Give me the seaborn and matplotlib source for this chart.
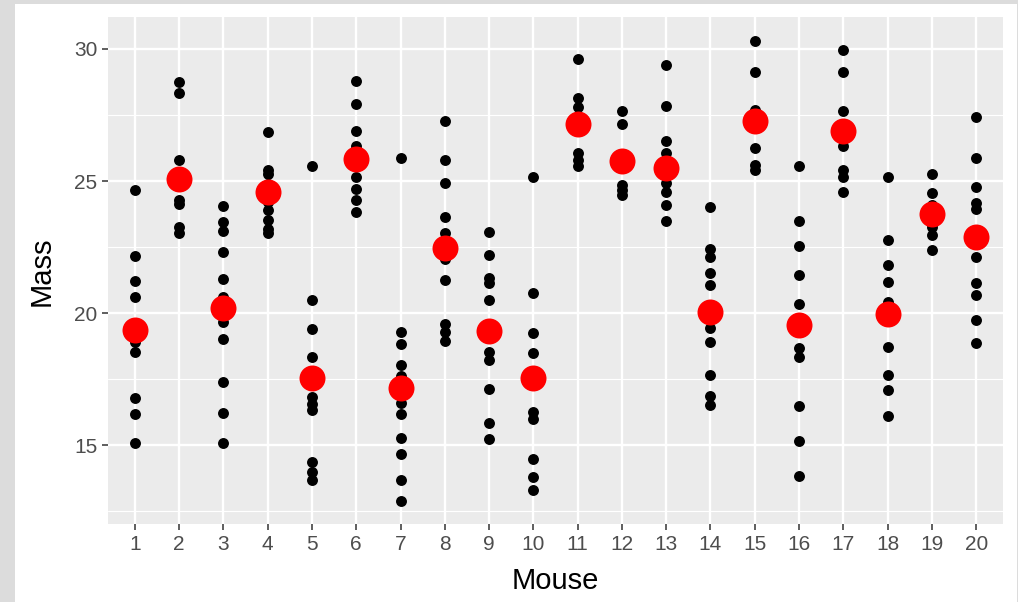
import pandas as pd
import matplotlib.pyplot as plt
import seaborn as sns
from matplotlib.patches import Rectangle

# mass readings per mouse (visible points)
mice = list(range(1, 21))
mass_points = [
    [24.67, 22.17, 21.21, 20.61, 18.90, 18.51, 16.80, 16.17, 15.08],
    [28.75, 28.33, 25.80, 24.29, 24.12, 23.24, 23.02],
    [24.07, 23.43, 23.12, 22.30, 21.28, 20.62, 19.67, 19.01, 17.40, 16.23, 15.08],
    [26.84, 25.42, 25.27, 24.90, 24.22, 23.91, 23.53, 23.17, 23.02],
    [25.55, 20.49, 19.39, 18.32, 16.83, 16.57, 16.32, 14.36, 13.98, 13.67],
    [28.77, 27.93, 26.90, 26.33, 25.17, 24.69, 24.29, 23.84],
    [25.89, 19.29, 18.81, 18.03, 17.60, 16.60, 16.17, 15.27, 14.65, 13.69, 12.87],
    [27.29, 25.80, 24.92, 23.65, 23.02, 22.04, 21.25, 19.58, 19.29, 18.95],
    [23.08, 22.20, 21.31, 21.13, 20.49, 18.53, 18.24, 17.12, 15.82, 15.22],
    [25.17, 20.75, 19.23, 18.47, 16.26, 16.00, 14.49, 13.79, 13.31],
    [29.62, 28.14, 27.80, 26.06, 25.80, 25.55],
    [27.64, 27.16, 24.85, 24.66, 24.48],
    [29.41, 27.85, 26.50, 26.06, 24.92, 24.60, 24.10, 23.49],
    [24.01, 22.41, 22.14, 21.53, 21.06, 19.42, 18.91, 17.65, 16.85, 16.50],
    [30.32, 29.13, 27.70, 26.25, 25.61, 25.42],
    [25.55, 23.50, 22.55, 21.44, 20.33, 18.66, 18.34, 16.49, 15.15, 13.82],
    [29.95, 29.13, 27.64, 26.31, 25.42, 25.17, 24.60],
    [25.17, 22.77, 21.82, 21.19, 20.43, 18.70, 17.67, 17.10, 16.11],
    [25.27, 24.56, 24.10, 23.27, 22.96, 22.39],
    [27.42, 25.89, 24.77, 24.16, 23.93, 22.14, 21.15, 20.67, 19.73, 18.85],
]
mass_means = [19.36, 25.07, 20.21, 24.60, 17.55, 25.83, 17.17, 22.48, 19.33, 17.55,
              27.17, 25.76, 25.51, 20.05, 27.26, 19.55, 26.88, 19.95, 23.74, 22.88]

points = pd.DataFrame({
    'Mouse': [m for m, vals in zip(mice, mass_points) for _ in vals],
    'Mass': [v for vals in mass_points for v in vals],
})
means = pd.DataFrame({'Mouse': mice, 'Mass': mass_means})

sns.set_theme(style='darkgrid')
plt.rcParams['font.family'] = ['Liberation Sans', 'DejaVu Sans']

fig = plt.figure(figsize=(10.18, 6.02), dpi=100)
fig.patch.set_facecolor('#dcdcdc')
# white card on the grey paper border
fig.patches.append(Rectangle((15 / 1018, 0), 1001.5 / 1018, 598.5 / 602,
                             transform=fig.transFigure, facecolor='white',
                             edgecolor='none', zorder=-10))
ax = fig.add_axes([0.1064, 0.129, 0.8786, 0.8423])

sns.scatterplot(data=points, x='Mouse', y='Mass', color='black', s=62,
                linewidth=0, ax=ax, zorder=3)
sns.scatterplot(data=means, x='Mouse', y='Mass', color='red', s=350,
                linewidth=0, ax=ax, zorder=4)

ax.set_facecolor('#EBEBEB')
for sp in ax.spines.values():
    sp.set_visible(False)
ax.set_xlim(0.4, 20.6)
ax.set_ylim(12.0, 31.2)
ax.set_xticks(mice)
ax.set_xticklabels([str(m) for m in mice])
ax.set_yticks([15, 20, 25, 30])
ax.set_yticks([12.5, 17.5, 22.5, 27.5], minor=True)
ax.grid(False)
ax.grid(which='major', color='white', linewidth=1.7)
ax.grid(which='minor', axis='y', color='white', linewidth=0.8)
ax.set_axisbelow(True)
ax.tick_params(which='major', length=4.5, width=1.1, color='#333333',
               labelcolor='#4d4d4d', labelsize=15, pad=3.5,
               bottom=True, left=True)
ax.tick_params(which='minor', length=0)
ax.set_xlabel('Mouse', fontsize=21, color='black', labelpad=9)
ax.set_ylabel('Mass', fontsize=21, color='black', labelpad=13)

fig.savefig('out.png', dpi=100, facecolor=fig.get_facecolor())
